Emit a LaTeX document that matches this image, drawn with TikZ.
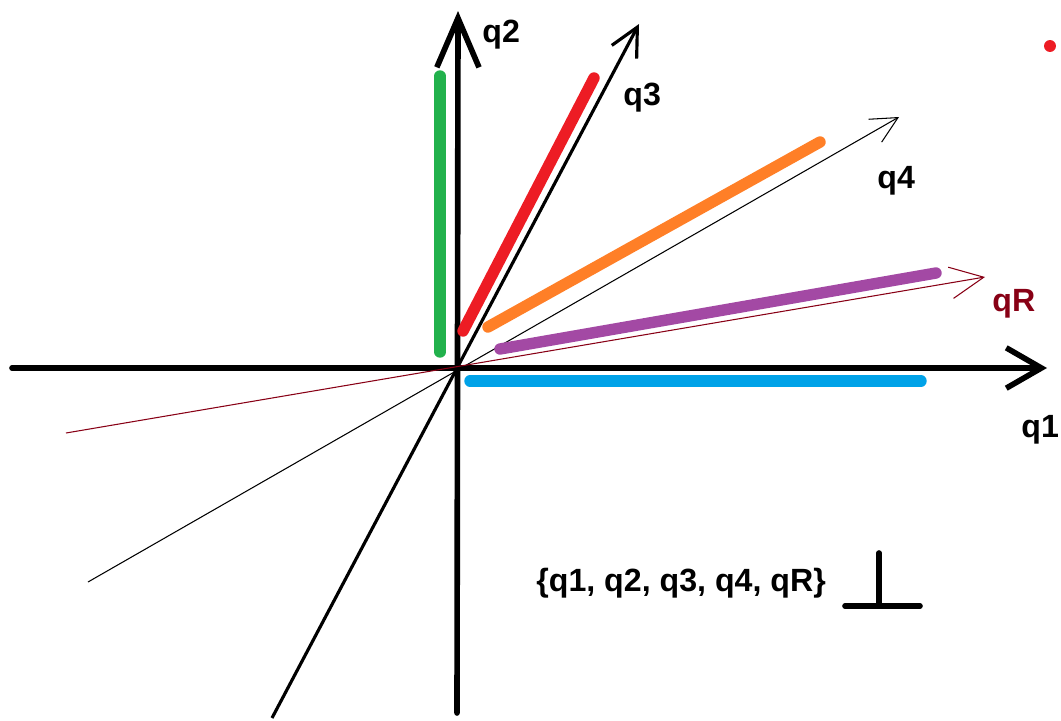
\documentclass[tikz,border=0pt]{standalone}
\usepackage{fontspec}
\setmainfont{Liberation Sans}
\usepackage{xcolor}
\usetikzlibrary{arrows.meta}

\definecolor{pgreen}{HTML}{22B14C}
\definecolor{pred}{HTML}{ED1C24}
\definecolor{porange}{HTML}{FF7F27}
\definecolor{ppurple}{HTML}{A349A4}
\definecolor{pblue}{HTML}{00A2E8}
\definecolor{pdarkred}{HTML}{880015}

\begin{document}
\begin{tikzpicture}[x=0.02cm, y=-0.02cm,
    lbl/.style={font=\bfseries\fontsize{18.3}{21}\selectfont, inner sep=0pt, anchor=base west},
    band/.style={line width=6.5pt, line cap=round},
    axis/.style={line width=3.2pt, line cap=round}]
    \useasboundingbox (0,0) rectangle (1061,720);
    \coordinate (O) at (457,368);
    % axes
    \draw[axis, -{Straight Barb[length=20pt, width=23pt]}] (12,368) -- (1047,368);
    \draw[axis, -{Straight Barb[length=28pt, width=24pt]}] (457,713) -- (458,11);
    \draw[line width=1.8pt, -{Straight Barb[length=16pt, width=16pt]}] (272,718) -- (639,24);
    \draw[line width=0.6pt, -{Straight Barb[length=15pt, width=15pt]}] (88,582) -- (899,117);
    \draw[pdarkred, line width=0.6pt, -{Straight Barb[length=19pt, width=18pt]}] (66,433) -- (985,277);
    % coloured strokes
    \draw[band, pgreen] (440,76) -- (440,352);
    \draw[band, pred] (594,78) -- (463,331);
    \draw[band, porange] (820,142) -- (488,327);
    \draw[band, ppurple] (936,273) -- (500,349);
    \draw[band, pblue] (470,381) -- (921,381);
    \fill[pred] (1050,46) circle (3.4pt);
    % labels
    \node[lbl] (lq2) at (482,42) {q2};
    \node[lbl] (lq3) at (623,105) {q3};
    \node[lbl] (lq4) at (877,188) {q4};
    \node[lbl, pdarkred] (lqR) at (992,311) {qR};
    \node[lbl] (lq1) at (1021,437) {q1};
    \node[lbl] (lset) at (536,591) {\{q1, q2, q3, q4, qR\}};
    % perpendicular sign
    \draw[axis] (879,553) -- (879,606);
    \draw[axis] (845,606) -- (920,606);
\end{tikzpicture}
\end{document}
